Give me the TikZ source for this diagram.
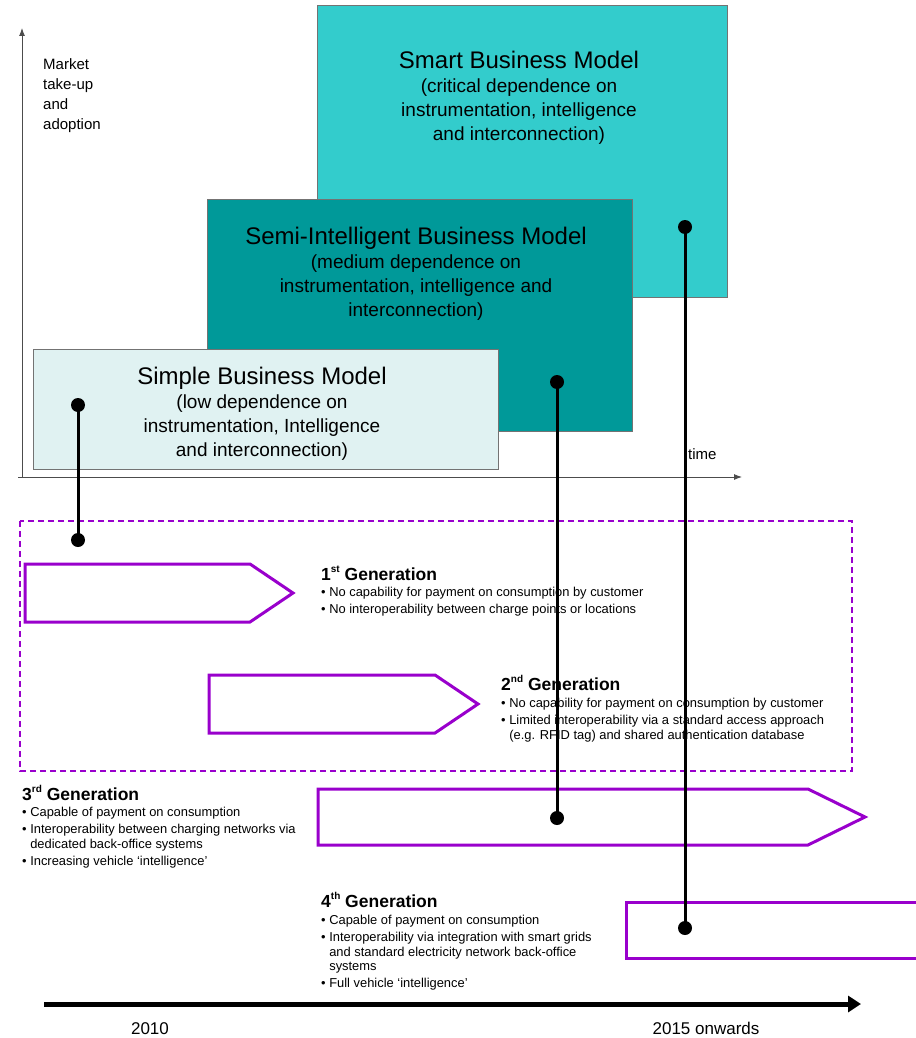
\documentclass[tikz,border=0pt]{standalone}
\usepackage{fontspec}
\setmainfont{Liberation Sans}
\usetikzlibrary{arrows.meta}
\definecolor{smartfill}{HTML}{33CCCC}
\definecolor{semifill}{HTML}{009999}
\definecolor{simplefill}{HTML}{E0F2F2}
\definecolor{genpurple}{HTML}{9900CC}
\newcommand{\ordsup}[1]{\raisebox{0.42em}{\fontsize{10}{10}\selectfont #1}}
\begin{document}
\begin{tikzpicture}[x=1pt,y=-1pt,
  modelbox/.style={draw=black!55,line width=0.8pt},
  boxtext/.style={align=center,inner sep=0pt,font=\fontsize{19}{24}\selectfont},
  axis/.style={draw=black!70,line width=0.9pt,-{Latex[length=8pt,width=6pt]}},
  axislabel/.style={align=left,inner sep=0pt,anchor=north west,font=\fontsize{15}{20}\selectfont},
  genarrow/.style={draw=genpurple,line width=3pt,line join=miter},
  genframe/.style={draw=genpurple,line width=1.6pt,dash pattern=on 6pt off 4pt},
  gentitle/.style={inner sep=0pt,anchor=base west,font=\bfseries\fontsize{17.5}{20}\selectfont},
  genlist/.style={align=left,inner sep=0pt,anchor=north west,font=\fontsize{12.9}{14.5}\selectfont},
  dotmark/.style={circle,fill=black,inner sep=0pt,minimum size=14pt},
  link/.style={draw=black,line width=3pt},
  timeline/.style={draw=black,line width=5pt,-{Triangle[length=13pt,width=16pt]}},
  yearlabel/.style={inner sep=0pt,anchor=base,font=\fontsize{17}{20}\selectfont}
]
\useasboundingbox (0,0) rectangle (915,1038);

% business model boxes, back to front
\draw[modelbox,fill=smartfill] (317,5) rectangle (727,297);
\node[boxtext] (smart) at (519,98)
  {{\fontsize{24}{24}\selectfont Smart Business Model}\\(critical dependence on\\instrumentation, intelligence\\and interconnection)};
\draw[modelbox,fill=semifill] (207,199) rectangle (632,431);
\node[boxtext] (semi) at (416,274)
  {{\fontsize{24}{24}\selectfont Semi-Intelligent Business Model}\\(medium dependence on\\instrumentation, intelligence and\\interconnection)};
\draw[modelbox,fill=simplefill] (33,349) rectangle (498,469);
\node[boxtext] (simple) at (262,414)
  {{\fontsize{24}{24}\selectfont Simple Business Model}\\(low dependence on\\instrumentation, Intelligence\\and interconnection)};

% axes
\coordinate (origin) at (22,477);
\coordinate (ytop) at (22,28);
\coordinate (xleft) at (18,477);
\coordinate (xright) at (742,477);
\draw[axis] (origin) -- (ytop);
\draw[axis] (xleft) -- (xright);
\node[axislabel] (ylab) at (43,58) {Market\\take-up\\and\\adoption};
\node[inner sep=0pt,anchor=base west,font=\fontsize{15}{20}\selectfont] (xlab) at (688,459) {time};

% generation frame and arrows
\draw[genframe] (20,521) rectangle (852,771);
\draw[genarrow] (25,564) -- (250,564) -- (293,593) -- (250,622) -- (25,622) -- cycle;
\draw[genarrow] (209,675) -- (435,675) -- (478,704) -- (435,733) -- (209,733) -- cycle;
\draw[genarrow] (318,789) -- (808,789) -- (865,817) -- (808,845) -- (318,845) -- cycle;
\draw[genarrow] (918,902) -- (626,902) -- (626,958) -- (918,958);

% generation descriptions
\node[gentitle] (g1) at (321,580) {1\ordsup{st} Generation};
\node[genlist] (g1l) at (321,587)
  {\textbullet\ No capability for payment on consumption by customer\\[2.5pt]
   \textbullet\ No interoperability between charge points or locations};
\node[gentitle] (g2) at (501,690) {2\ordsup{nd} Generation};
\node[genlist] (g2l) at (501,698)
  {\textbullet\ No capability for payment on consumption by customer\\[2.5pt]
   \textbullet\ Limited interoperability via a standard access approach\\
   \hphantom{\textbullet\ }(e.g. RFID tag) and shared authentication database};
\node[gentitle] (g3) at (22,800) {3\ordsup{rd} Generation};
\node[genlist] (g3l) at (22,807)
  {\textbullet\ Capable of payment on consumption\\[2.5pt]
   \textbullet\ Interoperability between charging networks via\\
   \hphantom{\textbullet\ }dedicated back-office systems\\[2.5pt]
   \textbullet\ Increasing vehicle `intelligence'};
\node[gentitle] (g4) at (321,907) {4\ordsup{th} Generation};
\node[genlist] (g4l) at (321,915)
  {\textbullet\ Capable of payment on consumption\\[2.5pt]
   \textbullet\ Interoperability via integration with smart grids\\
   \hphantom{\textbullet\ }and standard electricity network back-office\\
   \hphantom{\textbullet\ }systems\\[2.5pt]
   \textbullet\ Full vehicle `intelligence'};

% links from business models to generations
\node[dotmark] (s1) at (78,405) {};
\node[dotmark] (e1) at (78,540) {};
\node[dotmark] (s2) at (557,382) {};
\node[dotmark] (e2) at (557,818) {};
\node[dotmark] (s3) at (685,227) {};
\node[dotmark] (e3) at (685,928) {};
\draw[link] (s1.center) -- (e1.center);
\draw[link] (s2.center) -- (e2.center);
\draw[link] (s3.center) -- (e3.center);

% time line
\coordinate (tstart) at (44,1004);
\coordinate (tend) at (861,1004);
\draw[timeline] (tstart) -- (tend);
\node[yearlabel] (y2010) at (150,1034) {2010};
\node[yearlabel] (y2015) at (706,1034) {2015 onwards};
\end{tikzpicture}
\end{document}
